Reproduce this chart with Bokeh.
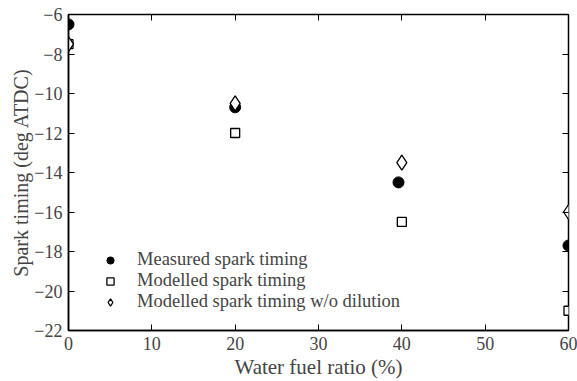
from bokeh.plotting import figure
from bokeh.models import LinearAxis, Legend, LegendItem, FixedTicker, CustomJSTickFormatter
from bokeh.embed import file_html
from bokeh.resources import INLINE

water_fuel_ratio = [0, 20, 39.6, 60]
measured = [-6.5, -10.7, -14.5, -17.7]
x_model = [0, 20, 40, 60]
modelled = [-7.5, -12.0, -16.5, -21.0]
modelled_no_dil = [-7.5, -10.5, -13.5, -16.0]

x_ticks = [0, 10, 20, 30, 40, 50, 60]
y_ticks = [-22, -20, -18, -16, -14, -12, -10, -8, -6]

FONT = "'Liberation Serif', serif"

p = figure(width=577, height=381, output_backend="svg", toolbar_location=None,
           x_range=(0, 60), y_range=(-22, -6),
           min_border_left=68, min_border_right=9, min_border_top=14, min_border_bottom=10)
p.xgrid.visible = False
p.ygrid.visible = False
p.outline_line_color = "black"
p.outline_line_width = 1.5

for ax in [p.xaxis[0], p.yaxis[0]]:
    ax.major_tick_in = 6
    ax.major_tick_out = 0
    ax.minor_tick_in = 0
    ax.minor_tick_out = 0
    ax.axis_line_width = 1.5
    ax.major_label_text_font = FONT
    ax.major_label_text_font_size = "18px"
    ax.axis_label_text_font = FONT
    ax.axis_label_text_font_style = "normal"
p.xaxis[0].axis_label_text_font_size = "21px"
p.yaxis[0].axis_label_text_font_size = "20px"
p.xaxis[0].ticker = FixedTicker(ticks=x_ticks)
p.yaxis[0].ticker = FixedTicker(ticks=y_ticks)
p.xaxis[0].axis_label = "Water fuel ratio (%)"
p.yaxis[0].axis_label = "Spark timing (deg ATDC)"
p.xaxis[0].major_label_standoff = 6
p.xaxis[0].axis_label_standoff = 2
p.yaxis[0].major_label_standoff = 6
p.yaxis[0].axis_label_standoff = -1

blank = CustomJSTickFormatter(code="return ''")
top = LinearAxis(ticker=FixedTicker(ticks=x_ticks), formatter=blank,
                 major_tick_in=6, major_tick_out=0, minor_tick_in=0, minor_tick_out=0,
                 axis_line_color=None, major_label_standoff=0)
right = LinearAxis(ticker=FixedTicker(ticks=y_ticks), formatter=blank,
                   major_tick_in=6, major_tick_out=0, minor_tick_in=0, minor_tick_out=0,
                   axis_line_color=None, major_label_standoff=0)
p.add_layout(top, "above")
p.add_layout(right, "right")

r1 = p.scatter(water_fuel_ratio, measured, marker="circle", size=11,
               fill_color="black", line_color="black")
r2 = p.scatter(x_model, modelled, marker="square", size=9,
               fill_color="white", line_color="black", line_width=1.3)
r3 = p.scatter(x_model, modelled_no_dil, marker="diamond", size=15,
               fill_color="white", line_color="black", line_width=1.3)

legend = Legend(items=[
    LegendItem(label="Measured spark timing", renderers=[r1]),
    LegendItem(label="Modelled spark timing", renderers=[r2]),
    LegendItem(label="Modelled spark timing w/o dilution", renderers=[r3]),
], location="bottom_left", border_line_color=None, background_fill_alpha=0,
    label_text_font=FONT, label_text_font_size="18.5px",
    glyph_width=20, glyph_height=18, spacing=-4, label_standoff=17,
    margin=0, padding=0, label_height=18)
legend.location = (32, 18)
p.add_layout(legend, "center")

open("out.html", "w").write(file_html(p, INLINE))
